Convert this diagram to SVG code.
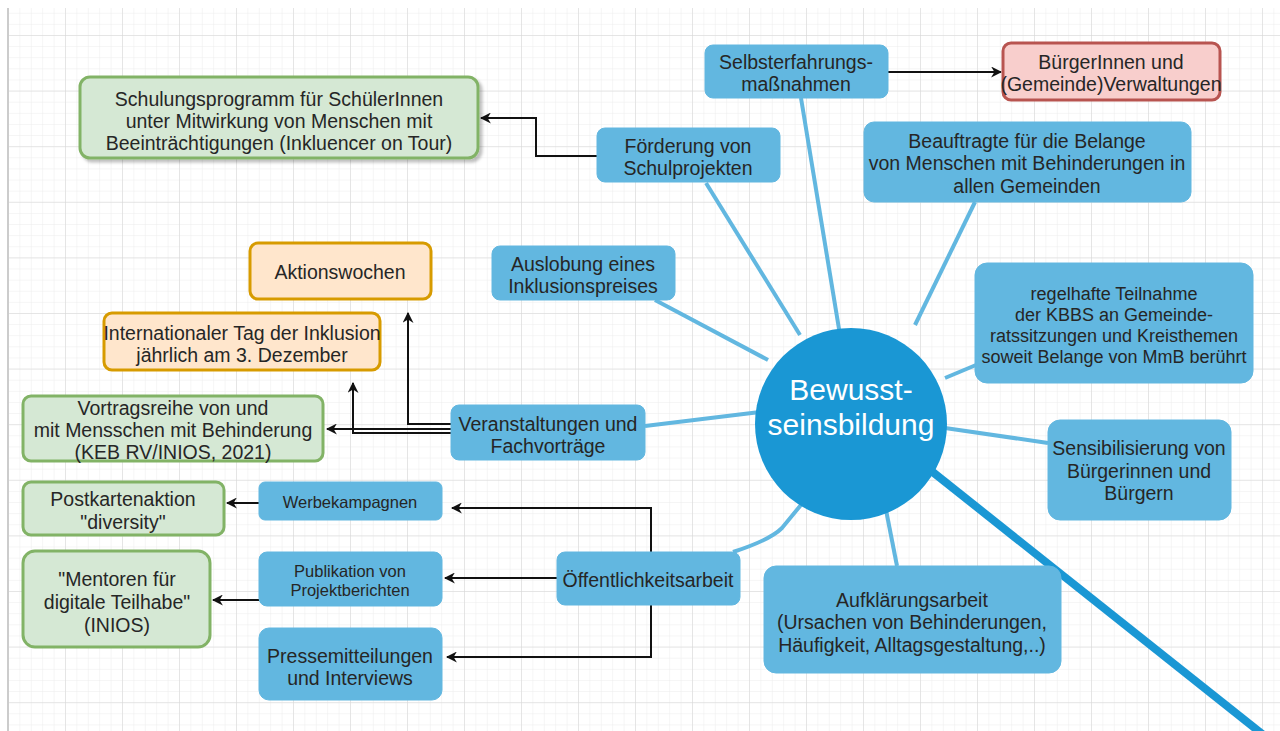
<svg xmlns="http://www.w3.org/2000/svg" width="1280" height="731" viewBox="0 0 1280 731">
<defs>
<pattern id="minor" x="8" y="35" width="11.4" height="11.12" patternUnits="userSpaceOnUse">
<path d="M0,0 H11.4 M0,0 V11.12" fill="none" stroke="#ebebeb" stroke-width="1"/>
</pattern>
<pattern id="major" x="8" y="35" width="57" height="55.6" patternUnits="userSpaceOnUse">
<path d="M0,0 H57 M0,0 V55.6" fill="none" stroke="#d6d6d6" stroke-width="1"/>
</pattern>
<marker id="arr" viewBox="0 0 10 10" refX="9" refY="5" markerWidth="11" markerHeight="11" markerUnits="userSpaceOnUse" orient="auto">
<path d="M0,0 L10,5 L0,10 L3,5 z" fill="#111"/>
</marker>
<filter id="shadow" x="-10%" y="-10%" width="125%" height="135%">
<feDropShadow dx="3" dy="3" stdDeviation="1.5" flood-color="#000" flood-opacity="0.25"/>
</filter>
</defs>
<style>
text{font-family:"Liberation Sans",Arial,sans-serif;fill:#262626;text-anchor:middle;dominant-baseline:central;font-size:19.5px}
.blue{fill:#62b7e0;stroke:#62b7e0;stroke-width:1}
.green{fill:#d5e8d4;stroke:#82b366;stroke-width:3}
.orange{fill:#ffe6cc;stroke:#d79b00;stroke-width:3}
.red{fill:#f8cecc;stroke:#b85450;stroke-width:3}
.spoke{stroke:#62b7e0;stroke-width:4;fill:none}
.arrow{stroke:#111;stroke-width:2;fill:none;marker-end:url(#arr)}
.small{font-size:16.5px}
.mid{font-size:18px}
.white{fill:#ffffff;font-size:30px}
</style>
<rect width="1280" height="731" fill="#ffffff"/>
<rect x="8" y="8" width="1272" height="723" fill="url(#minor)"/>
<rect x="8" y="8" width="1272" height="723" fill="url(#major)"/>
<line x1="8" y1="8" x2="8" y2="731" stroke="#cccccc" stroke-width="2"/>

<g id="connectors">
<line x1="905" y1="450" x2="1266" y2="737" stroke="#1a97d4" stroke-width="8"/>
<line class="spoke" x1="706" y1="183" x2="800" y2="335"/>
<line class="spoke" x1="801" y1="98" x2="840" y2="335"/>
<line class="spoke" x1="975" y1="202" x2="915" y2="325"/>
<line class="spoke" x1="655" y1="300" x2="768" y2="360"/>
<line class="spoke" x1="976" y1="365" x2="945" y2="378"/>
<line class="spoke" x1="645" y1="426" x2="760" y2="412"/>
<line class="spoke" x1="1048" y1="443" x2="945" y2="428"/>
<path class="spoke" d="M733,552 Q770,540 782,528 L805,500"/>
<line class="spoke" x1="897" y1="566" x2="886" y2="510"/>
<path class="arrow" d="M597,156 H536 V118 H481"/>
<line class="arrow" x1="888" y1="72" x2="1001" y2="72"/>
<path class="arrow" d="M451,424 H408 V313"/>
<path class="arrow" d="M451,433 H353 V383"/>
<line class="arrow" x1="451" y1="429" x2="327" y2="429"/>
<path class="arrow" d="M651,552 V508 H452"/>
<line class="arrow" x1="557" y1="578" x2="445" y2="578"/>
<path class="arrow" d="M651,605 V657 H447"/>
<line class="arrow" x1="259" y1="503" x2="227" y2="503"/>
<line class="arrow" x1="259" y1="600" x2="213" y2="600"/>
</g>

<g id="center">
<circle cx="851" cy="424" r="96" fill="#1a97d4"/>
<text class="white" x="851" y="389">Bewusst-</text>
<text class="white" x="851" y="424">seinsbildung</text>
</g>

<g id="schulungsprogramm">
<rect class="green" x="80" y="77" width="398" height="81" rx="10" filter="url(#shadow)"/>
<text x="279" y="99">Schulungsprogramm für SchülerInnen</text>
<text x="279" y="121">unter Mitwirkung von Menschen mit</text>
<text x="279" y="143">Beeinträchtigungen (Inkluencer on Tour)</text>
</g>
<g id="foerderung">
<rect class="blue" x="597" y="128" width="183" height="54" rx="8"/>
<text x="688" y="146">Förderung von</text>
<text x="688" y="168">Schulprojekten</text>
</g>
<g id="selbsterfahrung">
<rect class="blue" x="705" y="45" width="183" height="53" rx="8"/>
<text x="796" y="62">Selbsterfahrungs-</text>
<text x="796" y="84">maßnahmen</text>
</g>
<g id="buergerinnen">
<rect class="red" x="1003" y="43" width="217" height="57" rx="8"/>
<text x="1111" y="62">BürgerInnen und</text>
<text x="1111" y="84">(Gemeinde)Verwaltungen</text>
</g>
<g id="beauftragte">
<rect class="blue" x="864" y="122" width="327" height="80" rx="10"/>
<text x="1027" y="141">Beauftragte für die Belange</text>
<text x="1027" y="163">von Menschen mit Behinderungen in</text>
<text x="1027" y="186">allen Gemeinden</text>
</g>
<g id="auslobung">
<rect class="blue" x="492" y="246" width="183" height="54" rx="8"/>
<text x="583" y="264">Auslobung eines</text>
<text x="583" y="286">Inklusionspreises</text>
</g>
<g id="aktionswochen">
<rect class="orange" x="250" y="243" width="181" height="56" rx="8"/>
<text x="340" y="272">Aktionswochen</text>
</g>
<g id="internationaler-tag">
<rect class="orange" x="104" y="313" width="276" height="57" rx="8"/>
<text x="242" y="333">Internationaler Tag der Inklusion</text>
<text x="242" y="355">jährlich am 3. Dezember</text>
</g>
<g id="vortragsreihe">
<rect class="green" x="23" y="396" width="300" height="65" rx="8"/>
<text x="173" y="408">Vortragsreihe von und</text>
<text x="173" y="430">mit Mensschen mit Behinderung</text>
<text x="173" y="452">(KEB RV/INIOS, 2021)</text>
</g>
<g id="veranstaltungen">
<rect class="blue" x="451" y="405" width="194" height="55" rx="8"/>
<text x="548" y="424">Veranstaltungen und</text>
<text x="548" y="446">Fachvorträge</text>
</g>
<g id="regelhafte-teilnahme">
<rect class="blue" x="975" y="263" width="278" height="120" rx="12"/>
<text class="mid" x="1114" y="294">regelhafte Teilnahme</text>
<text class="mid" x="1114" y="315">der KBBS an Gemeinde-</text>
<text class="mid" x="1114" y="336">ratssitzungen und Kreisthemen</text>
<text class="mid" x="1114" y="357">soweit Belange von MmB berührt</text>
</g>
<g id="sensibilisierung">
<rect class="blue" x="1048" y="420" width="183" height="100" rx="12"/>
<text x="1139" y="448">Sensibilisierung von</text>
<text x="1139" y="471">Bürgerinnen und</text>
<text x="1139" y="493">Bürgern</text>
</g>
<g id="aufklaerungsarbeit">
<rect class="blue" x="764" y="566" width="297" height="107" rx="12"/>
<text x="912" y="600">Aufklärungsarbeit</text>
<text x="912" y="622">(Ursachen von Behinderungen,</text>
<text x="912" y="645">Häufigkeit, Alltagsgestaltung,..)</text>
</g>
<g id="oeffentlichkeitsarbeit">
<rect class="blue" x="557" y="552" width="183" height="53" rx="8"/>
<text x="648" y="580">Öffentlichkeitsarbeit</text>
</g>
<g id="werbekampagnen">
<rect class="blue" x="259" y="482" width="183" height="38" rx="6"/>
<text class="small" x="350" y="502">Werbekampagnen</text>
</g>
<g id="publikation">
<rect class="blue" x="259" y="552" width="183" height="54" rx="8"/>
<text class="small" x="350" y="571">Publikation von</text>
<text class="small" x="350" y="590">Projektberichten</text>
</g>
<g id="pressemitteilungen">
<rect class="blue" x="259" y="628" width="183" height="72" rx="10"/>
<text x="350" y="656">Pressemitteilungen</text>
<text x="350" y="678">und Interviews</text>
</g>
<g id="postkartenaktion">
<rect class="green" x="23" y="482" width="201" height="53" rx="8"/>
<text x="123" y="499">Postkartenaktion</text>
<text x="123" y="522">"diversity"</text>
</g>
<g id="mentoren">
<rect class="green" x="23" y="551" width="187" height="96" rx="12"/>
<text x="117" y="579">"Mentoren für</text>
<text x="117" y="602">digitale Teilhabe"</text>
<text x="117" y="625">(INIOS)</text>
</g>
</svg>
